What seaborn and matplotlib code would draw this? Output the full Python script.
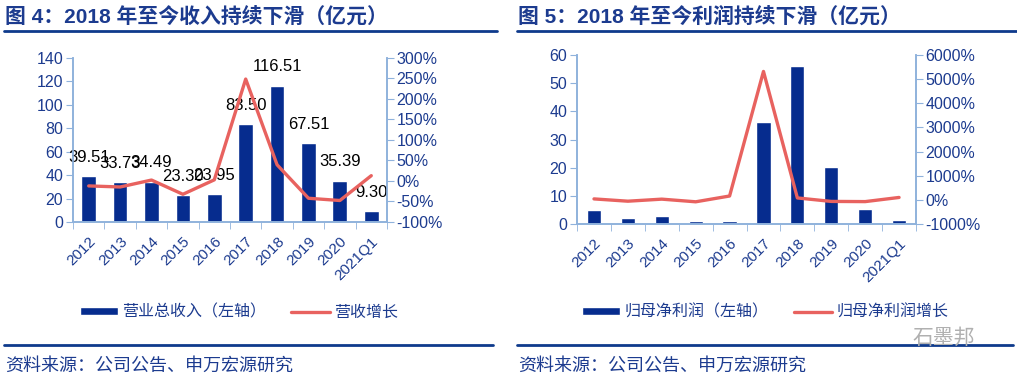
import numpy as np
import matplotlib
matplotlib.use('Agg')
import matplotlib.pyplot as plt
import seaborn as sns

# data
years = ['2012', '2013', '2014', '2015', '2016', '2017', '2018', '2019', '2020', '2021Q1']
revenue = [39.51, 33.73, 34.49, 23.30, 23.95, 83.50, 116.51, 67.51, 35.39, 9.30]
revenue_growth = [-12, -14.6, 2.3, -32.4, 2.8, 248.6, 39.5, -42.1, -47.6, 13]
profit = [5.0, 2.25, 2.8, 1.0, 1.0, 36.3, 56.1, 20.4, 5.4, 1.3]
profit_growth = [40, -55, 30, -80, 160, 5320, 80, -64, -72, 100]

titles = ['图 4：2018 年至今收入持续下滑（亿元）', '图 5：2018 年至今利润持续下滑（亿元）']
bar_labels = ['营业总收入（左轴）', '归母净利润（左轴）']
line_labels = ['营收增长', '归母净利润增长']
source = '资料来源：公司公告、申万宏源研究'

NAVY = '#1c3b8f'
BAR = '#062c8e'
RED = '#e8625f'
SPINE = '#8fb2dc'

sns.set_style('white')
plt.rcParams['font.family'] = ['Liberation Sans', 'Noto Sans CJK SC', 'DejaVu Sans']

fig = plt.figure(figsize=(10.17, 3.8), dpi=100)


def panel(rect, bars, growth, lims, rlims, bar_w, bar_lab, line_lab, show_values):
    ax = fig.add_axes(rect)
    sns.barplot(x=years, y=bars, ax=ax, color=BAR, saturation=1, width=bar_w,
                label=bar_lab)
    ax2 = ax.twinx()
    sns.lineplot(x=np.arange(len(years)), y=growth, ax=ax2, color=RED,
                 linewidth=2.4, label=line_lab)
    if show_values:
        ax.bar_label(ax.containers[0], fmt='%.2f', padding=8, fontsize=12,
                     color='black')

    ax.set_xlim(-0.5, len(years) - 0.5)
    ax.set_ylim(*lims[:2])
    ax.set_yticks(np.arange(lims[0], lims[1] + 1e-9, lims[2]))
    ax2.set_ylim(*rlims[:2])
    ticks = np.arange(rlims[0], rlims[1] + 1e-9, rlims[2])
    ax2.set_yticks(ticks)
    ax2.set_yticklabels([f'{t:.0f}%' for t in ticks])

    ax.set_xticks(np.arange(len(years)))
    ax.set_xticklabels(years, rotation=45, ha='right', rotation_mode='anchor')
    ax.set_xticks(np.arange(len(years) + 1) - 0.5, minor=True)
    ax.tick_params(axis='x', which='major', length=0, pad=9, labelsize=11,
                   labelcolor=NAVY)
    ax.tick_params(axis='x', which='minor', length=5, color=SPINE,
                   direction='out', bottom=True)
    ax.tick_params(axis='y', length=5, color=SPINE, direction='out', left=True,
                   labelsize=11.5, labelcolor=NAVY, pad=2)
    ax2.tick_params(axis='y', length=5, color=SPINE, direction='out', right=True,
                    labelsize=11.5, labelcolor=NAVY, pad=2)
    ax.set_xlabel('')
    ax.set_ylabel('')
    ax2.set_ylabel('')
    for a in (ax, ax2):
        a.spines['top'].set_visible(False)
        for s in ('left', 'bottom', 'right'):
            a.spines[s].set_color(SPINE)
            a.spines[s].set_linewidth(1.2)
        a.grid(False)
    ax.legend_.remove() if ax.legend_ else None
    ax2.legend_.remove() if ax2.legend_ else None
    return ax, ax2


a1, b1 = panel([0.0718, 0.4158, 0.3087, 0.4316], revenue, revenue_growth,
               (0, 140, 20), (-100, 300, 50), 0.47, bar_labels[0], line_labels[0], True)
a2, b2 = panel([0.5674, 0.4105, 0.3333, 0.4447], profit, profit_growth,
               (0, 60, 10), (-1000, 6000, 1000), 0.42, bar_labels[1], line_labels[1], False)

# legends
for ax, ax2, x0 in ((a1, b1, 0.072), (a2, b2, 0.566)):
    h1, l1 = ax.get_legend_handles_labels()
    h2, l2 = ax2.get_legend_handles_labels()
    leg = fig.legend(h1 + h2, l1 + l2, loc='center left',
                     bbox_to_anchor=(x0, 1 - 312 / 380), ncol=2, frameon=False,
                     fontsize=11.5, handlelength=2.4, handleheight=0.45,
                     handletextpad=0.25, columnspacing=1.6, borderaxespad=0)
    for t in leg.get_texts():
        t.set_color(NAVY)

# titles, rules and source notes
for x0, x1, title in ((5 / 1017, 497 / 1017, titles[0]),
                      (518 / 1017, 1.0, titles[1])):
    fig.text(x0, 1 - 17 / 380, title, fontsize=15, fontweight='bold',
             color=NAVY, va='center', ha='left')
    fig.add_artist(plt.Line2D([x0 - 1 / 1017, x1], [1 - 31 / 380] * 2,
                              color='#0e3a8c', linewidth=2))
    fig.add_artist(plt.Line2D([x0 - 1 / 1017, x1 - 4 / 1017], [1 - 345 / 380] * 2,
                              color='#0e3a8c', linewidth=2))
    fig.text(x0, 1 - 366 / 380, source, fontsize=13, color=NAVY,
             va='center', ha='left')

fig.text(912 / 1017, 1 - 338 / 380, '石墨邦', fontsize=15, color='#b0b0b0',
         va='center', ha='left')

fig.savefig('out.png', dpi=100)
